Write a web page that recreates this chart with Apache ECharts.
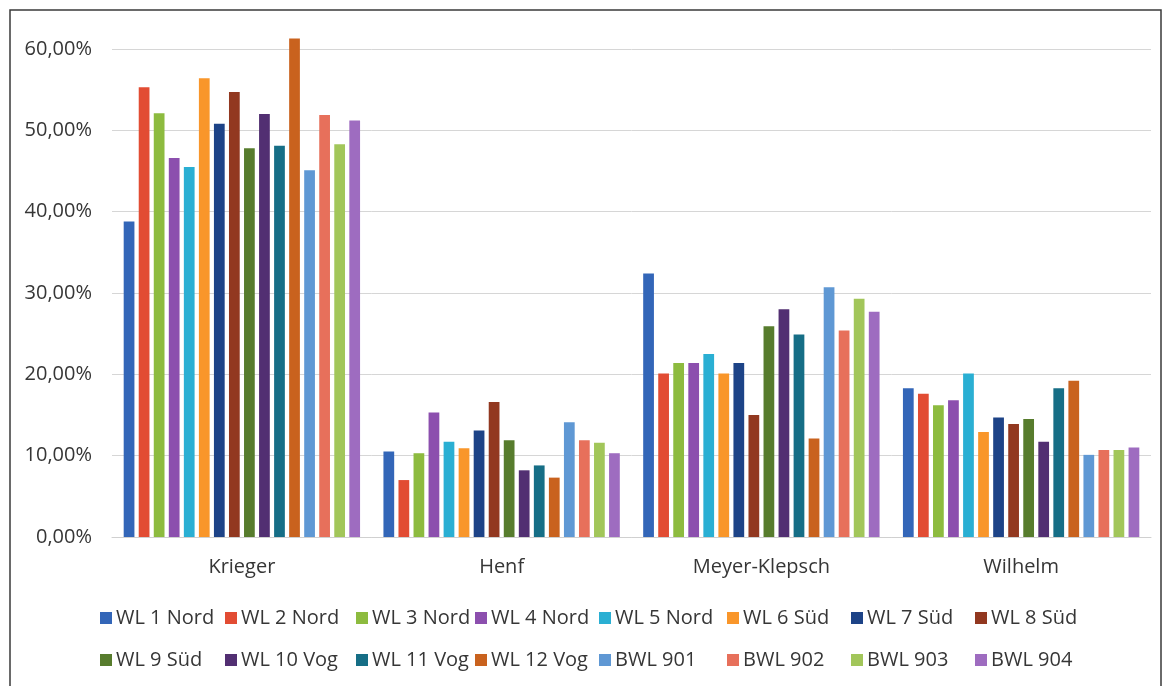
<!DOCTYPE html>
<html>
<head>
<meta charset="utf-8">
<script src="https://cdn.jsdelivr.net/npm/echarts@6/dist/echarts.min.js"></script>
<style>
  html, body { margin: 0; padding: 0; background: #ffffff; }
  #chart { width: 1167px; height: 686px; }
</style>
</head>
<body>
<div id="chart"></div>
<script>
// Sites along the x axis
const categories = ['Krieger', 'Henf', 'Meyer-Klepsch', 'Wilhelm'];

// Share per measuring point (percent), one array per series, in category order
const wl1Nord  = [38.8, 10.5, 32.4, 18.3];
const wl2Nord  = [55.3,  7.0, 20.1, 17.6];
const wl3Nord  = [52.1, 10.3, 21.4, 16.2];
const wl4Nord  = [46.6, 15.3, 21.4, 16.8];
const wl5Nord  = [45.5, 11.7, 22.5, 20.1];
const wl6Sued  = [56.4, 10.9, 20.1, 12.9];
const wl7Sued  = [50.8, 13.1, 21.4, 14.7];
const wl8Sued  = [54.7, 16.6, 15.0, 13.9];
const wl9Sued  = [47.8, 11.9, 25.9, 14.5];
const wl10Vog  = [52.0,  8.2, 28.0, 11.7];
const wl11Vog  = [48.1,  8.8, 24.9, 18.3];
const wl12Vog  = [61.3,  7.3, 12.1, 19.2];
const bwl901   = [45.1, 14.1, 30.7, 10.1];
const bwl902   = [51.9, 11.9, 25.4, 10.7];
const bwl903   = [48.3, 11.6, 29.3, 10.7];
const bwl904   = [51.2, 10.3, 27.7, 11.0];

const seriesNames = [
  'WL 1 Nord', 'WL 2 Nord', 'WL 3 Nord', 'WL 4 Nord',
  'WL 5 Nord', 'WL 6 Süd', 'WL 7 Süd', 'WL 8 Süd',
  'WL 9 Süd', 'WL 10 Vog', 'WL 11 Vog', 'WL 12 Vog',
  'BWL 901', 'BWL 902', 'BWL 903', 'BWL 904'
];
const seriesValues = [
  wl1Nord, wl2Nord, wl3Nord, wl4Nord, wl5Nord, wl6Sued, wl7Sued, wl8Sued,
  wl9Sued, wl10Vog, wl11Vog, wl12Vog, bwl901, bwl902, bwl903, bwl904
];
const seriesColors = [
  '#3366b8', '#e24c33', '#8dbb3f', '#8c4fae',
  '#2aafd3', '#f9962a', '#1d4387', '#923820',
  '#577c2d', '#522f72', '#166e86', '#c9621e',
  '#5f98d4', '#e7705b', '#a2c65a', '#9e6cc0'
];

// y axis tick values
const yTicks = [0, 10, 20, 30, 40, 50, 60];

const FONT = '"Open Sans", "DejaVu Sans", sans-serif';
const TEXT_COLOR = '#363636';

// Legend laid out as 8 columns of 2 rows
const legendColumnsX = [100, 225, 356, 475, 599, 727, 851, 975];
const legends = legendColumnsX.map((x, i) => ({
  data: [seriesNames[i], seriesNames[i + 8]],
  orient: 'vertical',
  left: x,
  top: 608,
  itemGap: 22,
  itemWidth: 12,
  itemHeight: 12,
  icon: 'rect',
  padding: 0,
  textStyle: { fontFamily: FONT, fontSize: 20, color: TEXT_COLOR, lineHeight: 20, padding: [0, 0, 0, -1] },
  selectedMode: false
}));

const chart = echarts.init(document.getElementById('chart'), null, { renderer: 'canvas' });

chart.setOption({
  backgroundColor: '#ffffff',
  animation: false,
  color: seriesColors,
  grid: { left: 112, right: 16, top: 49, bottom: 149 },
  legend: legends,
  graphic: [{
    type: 'rect',
    shape: { x: 10, y: 10, width: 1151, height: 700 },
    style: { fill: 'none', stroke: '#3a3a3a', lineWidth: 1.5 },
    silent: true
  }],
  xAxis: {
    type: 'category',
    data: categories,
    axisLine: { lineStyle: { color: '#d0d0d0', width: 1 } },
    axisTick: { show: false },
    axisLabel: { fontFamily: FONT, fontSize: 20, color: TEXT_COLOR, margin: 20 }
  },
  yAxis: {
    type: 'value',
    min: yTicks[0],
    max: yTicks[yTicks.length - 1],
    interval: yTicks[1] - yTicks[0],
    axisLine: { show: false },
    axisTick: { show: false },
    splitLine: { lineStyle: { color: '#d6d6d6', width: 1 } },
    axisLabel: {
      fontFamily: FONT, fontSize: 20, color: TEXT_COLOR, margin: 20,
      formatter: v => v.toFixed(2).replace('.', ',') + '%'
    }
  },
  series: seriesNames.map((name, i) => ({
    name: name,
    type: 'bar',
    data: seriesValues[i],
    clip: false,
    barGap: '40%',
    barCategoryGap: '9%',
    itemStyle: { color: seriesColors[i] }
  }))
});
</script>
</body>
</html>
